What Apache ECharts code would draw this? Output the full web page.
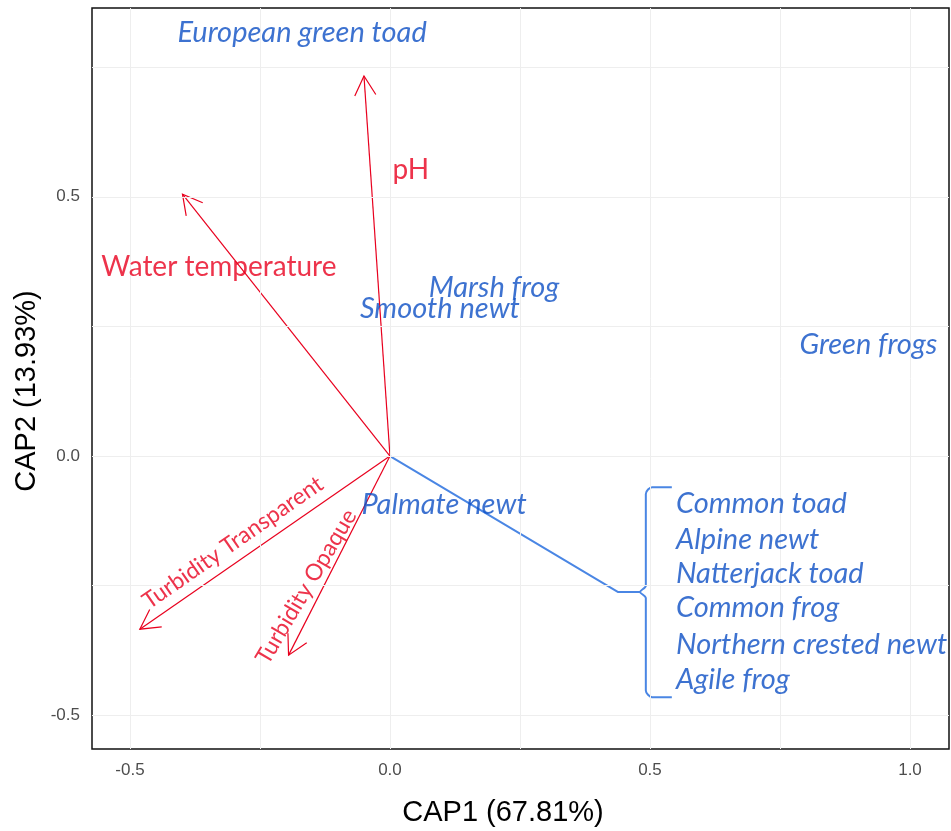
<!DOCTYPE html>
<html><head><meta charset="utf-8">
<script src="https://cdn.jsdelivr.net/npm/echarts@6/dist/echarts.min.js"></script>
<style>html,body{margin:0;padding:0;background:#fff}#c{width:951px;height:831px}</style>
</head><body><div id="c"></div>
<script>
// Axis ranges and ticks
const xRange = [-0.573, 1.075];
const yRange = [-0.565, 0.864];
const tickValues = [-0.5, 0.0, 0.5, 1.0];
const yTickValues = [-0.5, 0.0, 0.5];
const xGrid = [-0.5, -0.25, 0, 0.25, 0.5, 0.75, 1.0];
const yGrid = [-0.5, -0.25, 0, 0.25, 0.5, 0.75];

// Environmental vectors (arrow tips)
const envNames = ["pH", "Water temperature", "Turbidity Transparent", "Turbidity Opaque"];
const envX = [-0.050, -0.399, -0.481, -0.195];
const envY = [0.733, 0.505, -0.334, -0.384];
// Label anchor positions and rotations for env vectors
const envLabelX = [0.040, -0.329, -0.302, -0.161];
const envLabelY = [0.551, 0.364, -0.167, -0.252];
const envLabelRot = [0, 0, 34.8, 59.4];
const envLabelSize = [28, 28, 23, 23];

// Species labels
const spNames = ["European green toad", "Marsh frog", "Smooth newt", "Green frogs", "Palmate newt"];
const spX = [-0.169, 0.200, 0.096, 0.920, 0.104];
const spY = [0.817, 0.324, 0.285, 0.214, -0.094];

// Grouped species (left aligned)
const groupNames = ["Common toad", "Alpine newt", "Natterjack toad", "Common frog", "Northern crested newt", "Agile frog"];
const groupX = [0.550, 0.550, 0.550, 0.550, 0.550, 0.550];
const groupY = [-0.0925, -0.162, -0.226, -0.293, -0.364, -0.432];

// Connector line and brace
const connX = [0.0, 0.438, 0.481];
const connY = [0.0, -0.262, -0.262];
const braceX = [0.542, 0.504, 0.492, 0.492, 0.481, 0.492, 0.492, 0.504, 0.542];
const braceY = [-0.060, -0.060, -0.073, -0.250, -0.262, -0.274, -0.452, -0.465, -0.465];

const RED = '#e8001e', BLUE = '#0d4fc4', LBLUE = '#4a86e4';
const FONT = 'Lato';

const chart = echarts.init(document.getElementById('c'), null, {renderer: 'canvas'});

const gridMark = {
  silent: true, symbol: ['none', 'none'], label: {show: false},
  lineStyle: {color: '#eeeeee', width: 1, type: 'solid'},
  data: xGrid.map(v => ({xAxis: v})).concat(yGrid.map(v => ({yAxis: v})))
};

const option = {
  animation: false,
  grid: {left: 92, top: 8, right: 2, bottom: 82, show: true, borderColor: '#111', borderWidth: 1.5, backgroundColor: 'transparent'},
  xAxis: {
    type: 'value', min: xRange[0], max: xRange[1],
    splitLine: {show: false},
    axisLine: {show: false},
    axisTick: {show: true, customValues: tickValues, length: 4, lineStyle: {color: '#333'}},
    axisLabel: {customValues: tickValues, color: '#4d4d4d', fontSize: 17, fontFamily: 'Arial', margin: 13,
      formatter: v => v.toFixed(1)}
  },
  yAxis: {
    type: 'value', min: yRange[0], max: yRange[1],
    splitLine: {show: false},
    axisLine: {show: false},
    axisTick: {show: true, customValues: yTickValues, length: 4, lineStyle: {color: '#333'}},
    axisLabel: {customValues: yTickValues, color: '#4d4d4d', fontSize: 17, fontFamily: 'Arial', margin: 12,
      formatter: v => v.toFixed(1)}
  },
  graphic: [
    {type: 'text', x: 503, y: 813, style: {text: 'CAP1 (67.81%)', fill: '#000', font: '29px Arial', textAlign: 'center', textVerticalAlign: 'middle'}},
    {type: 'text', x: 27, y: 391, rotation: Math.PI / 2, style: {text: 'CAP2 (13.93%)', fill: '#000', font: '29px Arial', textAlign: 'center', textVerticalAlign: 'middle'}}
  ],
  series: [
    {type: 'line', data: [], markLine: gridMark, z: 1},
    {
      type: 'line', data: connX.map((x, i) => [x, connY[i]]), symbol: 'none',
      lineStyle: {color: LBLUE, width: 2}, z: 3, silent: true
    },
    {
      type: 'line', data: braceX.map((x, i) => [x, braceY[i]]), symbol: 'none', smooth: 0.3,
      lineStyle: {color: LBLUE, width: 2}, z: 3, silent: true
    },
    {
      type: 'custom', z: 4, silent: true,
      data: envX.map((x, i) => [x, envY[i]]),
      renderItem: function (params, api) {
        const p0 = api.coord([0, 0]);
        const p1 = api.coord([api.value(0), api.value(1)]);
        const ang = Math.atan2(p1[1] - p0[1], p1[0] - p0[0]);
        const L = 22, A = 0.5;
        const h1 = [p1[0] - L * Math.cos(ang - A), p1[1] - L * Math.sin(ang - A)];
        const h2 = [p1[0] - L * Math.cos(ang + A), p1[1] - L * Math.sin(ang + A)];
        return {type: 'group', children: [
          {type: 'polyline', shape: {points: [p0, p1]}, style: {stroke: RED, lineWidth: 1.2, fill: null}},
          {type: 'polyline', shape: {points: [h1, p1, h2]}, style: {stroke: RED, lineWidth: 1.2, fill: null}}
        ]};
      }
    },
    {
      type: 'scatter', z: 5, symbolSize: 0, silent: true,
      data: envNames.map((n, i) => ({name: n, value: [envLabelX[i], envLabelY[i]],
        label: {rotate: envLabelRot[i], fontSize: envLabelSize[i]}})),
      label: {show: true, position: 'inside', formatter: '{b}', color: RED, fontFamily: FONT, align: 'center', verticalAlign: 'middle'}
    },
    {
      type: 'scatter', z: 5, symbolSize: 0, silent: true,
      data: spNames.map((n, i) => ({name: n, value: [spX[i], spY[i]]})),
      label: {show: true, position: 'inside', formatter: '{b}', color: BLUE, fontFamily: FONT, fontStyle: 'italic', fontSize: 29, align: 'center', verticalAlign: 'middle'}
    },
    {
      type: 'scatter', z: 5, symbolSize: 0, silent: true,
      data: groupNames.map((n, i) => ({name: n, value: [groupX[i], groupY[i]]})),
      label: {show: true, position: 'inside', formatter: '{b}', color: BLUE, fontFamily: FONT, fontStyle: 'italic', fontSize: 29, align: 'left', verticalAlign: 'middle'}
    }
  ]
};
chart.setOption(option);
</script></body></html>
